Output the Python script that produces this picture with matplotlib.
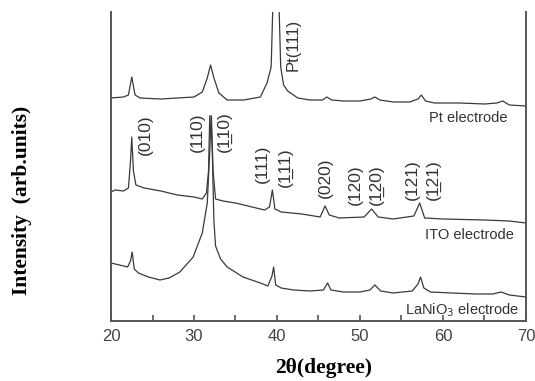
import matplotlib
matplotlib.use("Agg")
import matplotlib.pyplot as plt
from matplotlib.ticker import MultipleLocator

# XRD patterns, intensity in arbitrary units (offset stacked)
pt_x = [20.0, 21.5, 22.1, 22.5, 22.9, 23.5, 26.0, 28.0, 30.0, 31.0, 31.6, 32.0, 32.4, 33.0,
        34.0, 36.0, 38.0, 38.8, 39.3, 39.55, 40.2, 40.45, 40.8, 41.3, 42.5, 44.0, 45.5, 46.0,
        46.6, 48.0, 50.0, 51.3, 51.8, 52.4, 54.0, 56.0, 57.0, 57.4, 57.9, 59.0, 62.0, 65.0,
        66.5, 67.2, 68.0, 70.0]
pt_y = [223, 224, 226, 244, 226, 223, 222, 223, 224, 229, 243, 256, 243, 228,
        221, 221, 224, 238, 254, 330, 330, 254, 236, 230, 223, 221, 221, 224,
        221, 220, 220, 222, 224, 221, 219, 219, 222, 226, 220, 218, 218, 217,
        218, 220, 216, 215]

ito_x = [20.0, 20.5, 21.5, 22.1, 22.35, 22.5, 22.7, 23.0, 24.0, 26.0, 28.0, 30.0, 31.0, 31.5,
         31.75, 31.9, 32.1, 32.3, 32.6, 33.5, 35.0, 36.5, 38.5, 39.1, 39.45, 39.75, 40.5, 43.0,
         45.2, 45.8, 46.3, 47.5, 50.5, 51.4, 52.2, 54.0, 56.5, 57.2, 57.8, 60.0, 65.0, 68.0, 70.0]
ito_y = [129, 131, 130, 133, 160, 184, 150, 136, 133, 130, 126, 124, 122, 128,
         150, 205, 205, 150, 122, 120, 118, 115, 111, 114, 131, 112, 109, 107,
         104, 115, 106, 103, 104, 112, 104, 102, 105, 118, 103, 102, 101, 100, 98]

lno_x = [20.0, 21.0, 22.0, 22.35, 22.55, 22.8, 23.3, 24.5, 25.9, 27.0, 28.3, 29.9, 31.0,
         31.6, 31.9, 32.05, 32.2, 32.4, 32.6, 33.2, 34.0, 35.9, 38.0, 38.9, 39.4, 39.6,
         39.85, 40.5, 42.0, 44.0, 45.6, 46.1, 46.5, 48.0, 50.0, 51.2, 51.8, 52.5, 54.0, 56.3,
         57.0, 57.3, 57.7, 58.5, 61.0, 64.0, 66.0, 67.0, 68.0, 70.0]
lno_y = [58, 56, 54, 60, 69, 52, 48, 44, 41, 43, 49, 64, 88,
         118, 170, 203, 170, 100, 75, 62, 54, 44, 38, 35, 45, 54,
         36, 33, 31, 30, 31, 38, 31, 29, 29, 31, 36, 30, 28, 30,
         37, 44, 33, 29, 28, 27, 27, 29, 26, 24]

# peak indices (x, y position of the rotated label)
hkl_labels = ["(010)", "(110)", "(1\u033210)", "(111)", "(1\u033211)", "(020)",
              "(120)", "(1\u033220)", "(121)", "(1\u033221)"]
hkl_x = [24.1, 30.4, 33.7, 38.2, 41.0, 45.8, 49.4, 52.0, 56.3, 58.9]
hkl_y = [186, 189, 189, 157, 154, 143, 136, 136, 141, 141]

line_col = "#3a3a3a"
text_col = "#333333"

fig = plt.figure(figsize=(5.35, 3.81), dpi=100)
ax = fig.add_axes([0.2075, 0.1575, 0.7755, 0.811])

ax.plot(pt_x, pt_y, color=line_col, lw=0.9)
ax.plot(ito_x, ito_y, color=line_col, lw=0.9)
ax.plot(lno_x, lno_y, color=line_col, lw=0.9)

ax.set_xlim(20, 70)
ax.set_ylim(0, 309)

for lab, x, y in zip(hkl_labels, hkl_x, hkl_y):
    ax.text(x, y, lab, rotation=90, ha="center", va="center", fontsize=12.5,
            family="Liberation Sans", color=text_col)

ax.text(41.9, 276, "Pt(111)", rotation=90, ha="center", va="center", fontsize=12,
        family="Liberation Sans", color=text_col, clip_on=False)
ax.text(63.1, 203, "Pt electrode", ha="center", va="center", fontsize=10.5,
        family="Liberation Sans", color=text_col)
ax.text(63.25, 86, "ITO electrode", ha="center", va="center", fontsize=10.5,
        family="Liberation Sans", color=text_col)
ax.text(62.3, 11, "LaNiO$_3$ electrode", ha="center", va="center", fontsize=10.5,
        family="Liberation Sans", color=text_col)

ax.spines["top"].set_visible(False)
for s in ["left", "right", "bottom"]:
    ax.spines[s].set_color("#555555")
    ax.spines[s].set_linewidth(1.4)

ax.set_yticks([])
ax.xaxis.set_major_locator(MultipleLocator(10))
ax.xaxis.set_minor_locator(MultipleLocator(5))
ax.tick_params(axis="x", which="both", direction="in", length=4, width=1.2,
               color="#555555", labelsize=12, labelcolor="#444444", pad=6)
for t in ax.get_xticklabels():
    t.set_family("Liberation Sans")

fig.text(324 / 535, 1 - 368 / 381, "2\u03b8(degree)", ha="center", va="center",
         fontsize=15.5, fontweight="bold", family="Liberation Serif")
fig.text(22 / 535, 1 - 200 / 381, "Intensity  (arb.units)", ha="center", va="center",
         rotation=90, fontsize=15.5, fontweight="bold", family="Liberation Serif")

fig.savefig("out.png", dpi=100)
